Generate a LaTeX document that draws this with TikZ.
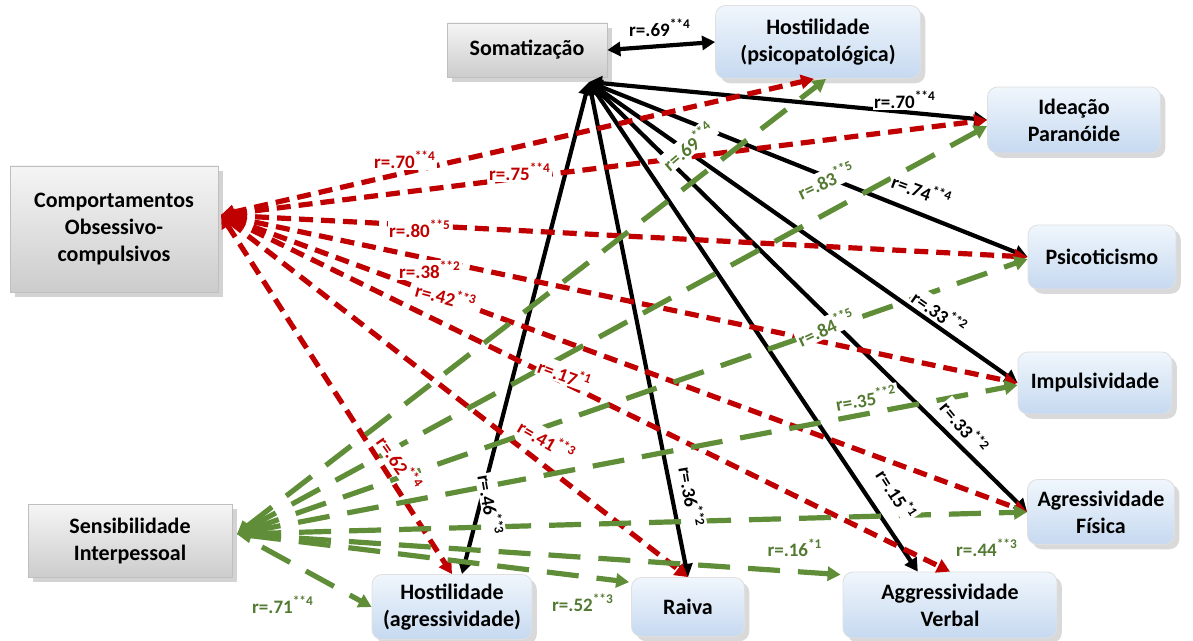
\documentclass[tikz,border=0pt]{standalone}
\usepackage{fontspec}
\setmainfont{Carlito}
\usetikzlibrary{arrows.meta,shadows,calc}
\definecolor{myred}{RGB}{192,0,0}
\definecolor{mygreen}{RGB}{96,142,56}
\definecolor{lblgreen}{RGB}{84,122,50}
\definecolor{bluetop}{RGB}{240,246,252}
\definecolor{bluebot}{RGB}{198,217,240}
\newcommand{\rlab}[2]{r=.#1\textsuperscript{#2}}
\begin{document}
\begin{tikzpicture}[x=0.5pt,y=-0.5pt,
  >={Triangle[length=6.5pt,width=7pt]},
  boxfont/.style={font=\fontsize{11}{13.5}\selectfont\bfseries, align=center, inner sep=2pt},
  graybox/.style={boxfont, rectangle, draw=gray!50, line width=0.4pt, top color=gray!8, bottom color=gray!40, drop shadow={opacity=0.35}},
  bluebox/.style={boxfont, rectangle, rounded corners=5pt, draw=gray!25, line width=0.4pt, top color=bluetop, bottom color=bluebot, drop shadow={opacity=0.3}},
  blk/.style={draw=black, line width=2.1pt, <->},
  redl/.style={draw=myred, line width=2.6pt, dash pattern=on 7pt off 4pt, <->},
  grnl/.style={draw=mygreen, line width=2.6pt, dash pattern=on 16pt off 9pt, <->},
  grnone/.style={draw=mygreen, line width=2.6pt, dash pattern=on 16pt off 9pt, ->},
  lab/.style={font=\fontsize{9.5}{10}\selectfont\bfseries, inner sep=0.8pt, fill=white},
  lblk/.style={lab, text=black},
  lred/.style={lab, text=myred},
  lgrn/.style={lab, text=lblgreen}]
\useasboundingbox (0,0) rectangle (1193,641);

% nodes
\node[graybox, minimum width=80pt, minimum height=27pt] (som) at (527,50) {Somatização};
\node[bluebox, minimum width=102.5pt, minimum height=36.5pt] (hps) at (818,42) {Hostilidade\\(psicopatológica)};
\node[bluebox, minimum width=86.5pt, minimum height=33pt] (ide) at (1074,120) {Ideação\\Paranóide};
\node[graybox, minimum width=104pt, minimum height=63pt] (com) at (114,229) {Comportamentos\\Obsessivo-\\compulsivos};
\node[bluebox, minimum width=74pt, minimum height=32pt] (psi) at (1102,257) {Psicoticismo};
\node[bluebox, minimum width=77pt, minimum height=31pt] (imp) at (1095,383) {Impulsividade};
\node[bluebox, minimum width=73.5pt, minimum height=32.5pt] (fis) at (1101,512) {Agressividade\\Física};
\node[graybox, minimum width=102pt, minimum height=36.5pt] (sen) at (130,541) {Sensibilidade\\Interpessoal};
\node[bluebox, minimum width=80pt, minimum height=32.5pt] (hag) at (452,607) {Hostilidade\\(agressividade)};
\node[bluebox, minimum width=56.5pt, minimum height=29.5pt] (rai) at (688,607) {Raiva};
\node[bluebox, minimum width=107pt, minimum height=33pt] (verb) at (950,605) {Aggressividade\\Verbal};

\coordinate (s0) at (589,82);
\coordinate (c0) at (221,215);
\coordinate (g0) at (237,534);
\coordinate (g1) at (262,547);

% black connectors
\draw[blk] (som.east) -- (hps.west);
\draw[blk] (s0) -- (ide.west);
\draw[blk] (s0) -- (psi.west);
\draw[blk] (s0) -- (imp.west);
\draw[blk] (s0) -- (fis.west);
\draw[blk] (s0) -- ($(verb.north west)!0.35!(verb.north east)$);
\draw[blk] (s0) -- (rai.north);
\draw[blk] (s0) -- ($(hag.north)+(10,0)$);

% red connectors
\draw[redl] (c0) -- ($(hps.south)+(-4,0)$);
\draw[redl] (c0) -- (ide.west);
\draw[redl] (c0) -- (psi.west);
\draw[redl] (c0) -- (imp.west);
\draw[redl] (c0) -- (fis.west);
\draw[redl] (c0) -- (verb.north);
\draw[redl] (c0) -- (rai.north);
\draw[redl] (c0) -- (hag.north);

% green connectors
\draw[grnl] (g0) -- ($(hps.south)+(8,0)$);
\draw[grnl] (g0) -- ($(ide.west)+(0,6)$);
\draw[grnl] (g0) -- ($(psi.west)+(0,2)$);
\draw[grnl] (g0) -- ($(imp.west)+(0,2)$);
\draw[grnl] (g0) -- (fis.west);
\draw[grnl] (g0) -- ($(verb.north west)+(-2,3)$);
\draw[grnl] (g0) -- ($(rai.north west)+(-2,5)$);
\draw[grnone] (g1) -- (hag.west);

% black labels
\node[lblk] (lb1) at (660,28) {\rlab{69}{**4}};
\node[lblk] (lb2) at (905,100) {\rlab{70}{**4}};
\node[lblk, rotate=-20] (lb3) at (922,190) {\rlab{74}{**4}};
\node[lblk, rotate=-35] (lb4) at (940,312) {\rlab{33}{**2}};
\node[lblk, rotate=-50] (lb5) at (965,427) {\rlab{33}{**2}};
\node[lblk, rotate=-57] (lb6) at (897,494) {\rlab{15}{*1}};
\node[lblk, rotate=-80] (lb7) at (692,497) {\rlab{36}{**2}};
\node[lblk, rotate=-80] (lb8) at (491,505) {\rlab{46}{**3}};

% red labels
\node[lred] (lr1) at (405,160) {\rlab{70}{**4}};
\node[lred] (lr2) at (520,172) {\rlab{75}{**4}};
\node[lred] (lr3) at (420,229) {\rlab{80}{**5}};
\node[lred] (lr4) at (430,270) {\rlab{38}{**2}};
\node[lred, rotate=-15] (lr5) at (446,296) {\rlab{42}{**3}};
\node[lred, rotate=-20] (lr6) at (565,374) {\rlab{17}{*1}};
\node[lred, rotate=-30] (lr7) at (547,440) {\rlab{41}{**3}};
\node[lred, rotate=-55] (lr8) at (400,463) {\rlab{62}{**4}};

% green labels
\node[lgrn, rotate=40] (lg1) at (688,146) {\rlab{69}{**4}};
\node[lgrn, rotate=25] (lg2) at (826,180) {\rlab{83}{**5}};
\node[lgrn, rotate=25] (lg3) at (826,327) {\rlab{84}{**5}};
\node[lgrn, rotate=10] (lg4) at (866,398) {\rlab{35}{**2}};
\node[lgrn] (lg5) at (987,548) {\rlab{44}{**3}};
\node[lgrn] (lg6) at (795,548) {\rlab{16}{*1}};
\node[lgrn] (lg7) at (583,603) {\rlab{52}{**3}};
\node[lgrn] (lg8) at (283,605) {\rlab{71}{**4}};
\end{tikzpicture}
\end{document}
